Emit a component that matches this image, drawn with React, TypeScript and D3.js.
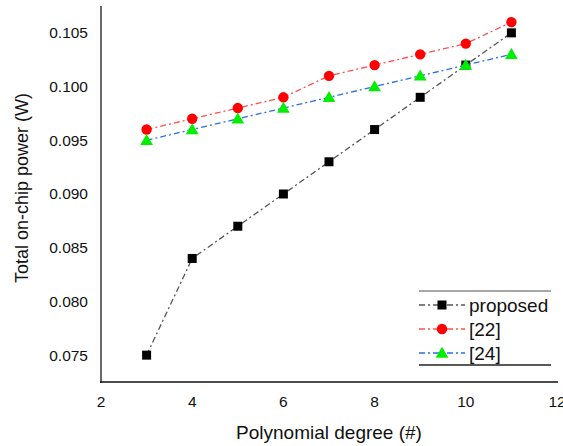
import React from "react";
import * as d3 from "d3";

const degrees = [3, 4, 5, 6, 7, 8, 9, 10, 11];
const proposed = [0.075, 0.084, 0.087, 0.09, 0.093, 0.096, 0.099, 0.102, 0.105];
const ref22 = [0.096, 0.097, 0.098, 0.099, 0.101, 0.102, 0.103, 0.104, 0.106];
const ref24 = [0.095, 0.096, 0.097, 0.098, 0.099, 0.1, 0.101, 0.102, 0.103];
const xTicks = [2, 4, 6, 8, 10, 12];
const yTicks = [0.075, 0.08, 0.085, 0.09, 0.095, 0.1, 0.105];
const seriesNames = ["proposed", "[22]", "[24]"];

const W = 563;
const H = 446;
const FONT = "'Liberation Sans', Arial, sans-serif";

export default function App() {
  const x = d3.scaleLinear().domain([2, 12]).range([101, 557]);
  const y = d3.scaleLinear().domain([0.0725, 0.1075]).range([382, 6]);
  const line = d3
    .line<number>()
    .x((_, i) => x(degrees[i]))
    .y((d) => y(d));

  const series = [
    { name: seriesNames[0], data: proposed, stroke: "#555555", fill: "#000000", marker: "square" },
    { name: seriesNames[1], data: ref22, stroke: "#ff5050", fill: "#ff0000", marker: "circle" },
    { name: seriesNames[2], data: ref24, stroke: "#2a6fe8", fill: "#00ee00", marker: "triangle" },
  ];
  const dash = "6,3,2,3";

  const marker = (type: string, cx: number, cy: number, fill: string, key: any) => {
    if (type === "square")
      return <rect key={key} x={cx - 4.5} y={cy - 4.5} width={9} height={9} fill={fill} />;
    if (type === "circle") return <circle key={key} cx={cx} cy={cy} r={5.2} fill={fill} />;
    const s = d3.symbol().type(d3.symbolTriangle).size(70)();
    return <path key={key} d={s || ""} transform={`translate(${cx},${cy + 1})`} fill={fill} />;
  };

  const legendRows = [305, 329, 353];

  return (
    <svg width={W} height={H} style={{ display: "block", position: "absolute", left: 0, top: 0 }} fontFamily={FONT}>
      <rect width={W} height={H} fill="#fff" />
      {/* axes */}
      <line x1={101} y1={6} x2={101} y2={383} stroke="#444" strokeWidth={1.6} />
      <line x1={100} y1={382} x2={558} y2={382} stroke="#111" strokeWidth={1.6} />
      {yTicks.map((t) => (
        <text key={t} x={88} y={y(t)} dy="0.35em" textAnchor="end" fontSize={15.5} fill="#111">
          {d3.format(".3f")(t)}
        </text>
      ))}
      {xTicks.map((t) => (
        <text key={t} x={x(t)} y={402} dy="0.35em" textAnchor="middle" fontSize={15.5} fill="#111">
          {t}
        </text>
      ))}
      <text x={329} y={432} dy="0.35em" textAnchor="middle" fontSize={19} fill="#111">
        Polynomial degree (#)
      </text>
      <text
        transform={`translate(22,188) rotate(-90)`}
        dy="0.35em"
        textAnchor="middle"
        fontSize={18}
        fill="#111"
      >
        Total on-chip power (W)
      </text>
      {/* series */}
      {series.map((s) => (
        <g key={s.name}>
          <path d={line(s.data) || ""} fill="none" stroke={s.stroke} strokeWidth={1.3} strokeDasharray={dash} />
          {s.data.map((v, i) => marker(s.marker, x(degrees[i]), y(v), s.fill, i))}
        </g>
      ))}
      {/* legend */}
      <line x1={419} y1={291} x2={551} y2={291} stroke="#888" strokeWidth={1.3} />
      <line x1={419} y1={365} x2={551} y2={365} stroke="#222" strokeWidth={1.3} />
      {series.map((s, i) => (
        <g key={s.name}>
          <line x1={419} y1={legendRows[i]} x2={465} y2={legendRows[i]} stroke={s.stroke} strokeWidth={1.3} strokeDasharray={dash} />
          {marker(s.marker, 442, legendRows[i], s.fill, "m")}
          <text x={469} y={legendRows[i]} dy="0.35em" fontSize={19} fill="#111">
            {s.name}
          </text>
        </g>
      ))}
    </svg>
  );
}
